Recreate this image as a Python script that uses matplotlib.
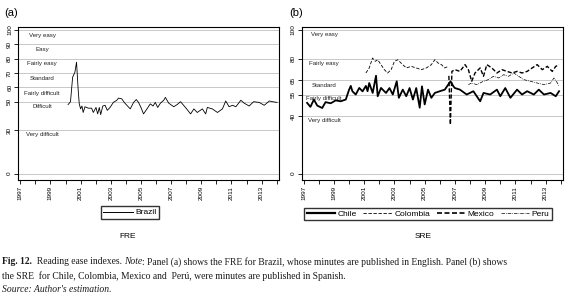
import matplotlib
matplotlib.use("Agg")
import matplotlib.pyplot as plt
from matplotlib.lines import Line2D

plt.rcParams['font.family'] = ['Liberation Sans', 'DejaVu Sans']

# ---- panel (a): FRE, Brazil ----
br_year = [2000.17, 2000.33, 2000.47, 2000.62, 2000.73, 2000.84, 2000.91, 2001.0, 2001.09, 2001.17,
           2001.29, 2001.51, 2001.73, 2001.84, 2002.02, 2002.13, 2002.24, 2002.33, 2002.47, 2002.62,
           2002.77, 2002.95, 2003.17, 2003.4, 2003.51, 2003.73, 2003.89, 2004.11, 2004.29, 2004.51,
           2004.69, 2004.84, 2005.0, 2005.17, 2005.4, 2005.62, 2005.8, 2005.95, 2006.11, 2006.29,
           2006.51, 2006.62, 2006.84, 2007.17, 2007.4, 2007.62, 2007.95, 2008.29, 2008.51, 2008.73,
           2009.07, 2009.29, 2009.4, 2009.73, 2010.07, 2010.4, 2010.62, 2010.84, 2011.07, 2011.29,
           2011.62, 2011.84, 2012.17, 2012.47, 2012.84, 2013.17, 2013.51, 2013.73, 2014.02]
br_fre = [48, 50, 67, 70.5, 77.5, 58, 48.5, 45, 47, 42.5,
          46.5, 45.5, 45.5, 42.5, 46, 41.5, 46, 41, 47, 47.5,
          44, 46, 49.5, 51, 52.5, 52, 49.5, 47, 45, 49.5,
          51.5, 49.5, 46, 41.5, 45, 48.5, 47, 49.5, 46, 49,
          51, 53, 49, 46.5, 48, 50, 46, 41.5, 45, 42.5,
          45, 41.5, 46, 45, 42.5, 45, 50.5, 46.5, 47.5, 46.5,
          51, 49, 47, 50, 49.5, 47.5, 50.5, 50, 49.5]

fre_ticks = [0, 30, 50, 60, 70, 80, 90, 100]
fre_labels = ["Very easy", "Easy", "Fairly easy", "Standard", "Fairly difficult", "Difficult", "Very difficult"]
fre_label_y = [95.8, 86, 76.4, 66, 56, 46.5, 27]

# ---- panel (b): SRE ----
cl_year = [1997.22, 1997.44, 1997.67, 1997.89, 1998.22, 1998.44, 1998.78, 1999.11, 1999.44, 1999.78,
           2000.0, 2000.11, 2000.22, 2000.44, 2000.67, 2000.89, 2001.11, 2001.22, 2001.33, 2001.56,
           2001.78, 2001.89, 2002.11, 2002.22, 2002.44, 2002.67, 2002.89, 2003.15, 2003.29, 2003.55,
           2003.78, 2004.0, 2004.22, 2004.44, 2004.67, 2004.82, 2005.0, 2005.22, 2005.44, 2005.67,
           2006.0, 2006.33, 2006.55, 2006.71, 2006.9, 2007.0, 2007.33, 2007.78, 2008.22, 2008.67,
           2008.89, 2009.33, 2009.78, 2010.0, 2010.33, 2010.67, 2011.11, 2011.44, 2011.78, 2012.22,
           2012.55, 2012.89, 2013.33, 2013.67, 2013.89]
cl_sre = [49.2, 46.4, 51.5, 47.3, 45.6, 49.7, 48.9, 50.9, 50.3, 51.5,
          58.4, 61, 57.2, 55, 59.6, 57.2, 61, 57.3, 63, 56.1,
          68.1, 53.8, 59.6, 58.4, 56.1, 59.5, 55, 64.2, 52.7, 58.4,
          53.8, 59.5, 51.5, 59.5, 45.8, 60.7, 48.1, 58.4, 52.7, 56.1,
          57.3, 58.4, 61.8, 64.2, 60.7, 59.5, 58.4, 55, 57.3, 50.3,
          56.1, 55, 58.4, 53.8, 59.5, 52.7, 58.4, 55, 57.3, 55,
          58.4, 55, 56.1, 53.8, 57.3]

co_year = [2001.11, 2001.33, 2001.55, 2001.73, 2001.89, 2002.11, 2002.33, 2002.55, 2002.78, 2003.0,
           2003.22, 2003.44, 2003.78, 2004.11, 2004.44, 2004.78, 2005.11, 2005.44, 2005.67, 2005.89,
           2006.11, 2006.33, 2006.55]
co_sre = [70, 73.5, 80.4, 78.1, 79.2, 75.8, 72.3, 70, 72.3, 78.1,
          79.2, 76.9, 73.5, 74.6, 73.5, 72.3, 73.5, 75.8, 79.2, 76.9,
          75.8, 73.5, 74.6]

mx_year = [2006.6, 2006.7, 2006.8, 2007.0, 2007.33, 2007.67, 2007.89, 2008.11, 2008.33, 2008.67,
           2008.89, 2009.11, 2009.44, 2009.78, 2010.11, 2010.44, 2010.78, 2011.11, 2011.44, 2011.78,
           2012.11, 2012.44, 2012.78, 2013.11, 2013.44, 2013.67, 2013.89]
mx_sre = [68, 34, 71.1, 72.3, 71.1, 75.8, 72.3, 64.2, 70, 73.5,
          67.7, 75.8, 73.5, 70, 72.3, 71.1, 70, 71.1, 70, 71.1,
          73.5, 75.8, 72.3, 74.6, 71.1, 74.6, 75.8]

pe_year = [2007.89, 2008.11, 2008.44, 2008.89, 2009.22, 2009.55, 2009.89, 2010.22, 2010.55, 2010.89,
           2011.22, 2011.55, 2012.0, 2012.44, 2012.89, 2013.33, 2013.55, 2013.78, 2013.89]
pe_sre = [61.9, 63, 61.9, 64.2, 65.4, 67.7, 66.5, 68.8, 67.7, 70,
          67.7, 65.4, 64.2, 63, 61.9, 63, 66.5, 63, 60.7]

sre_ticks = [0, 40, 55, 65, 80, 100]
sre_labels = ["Very easy", "Fairly easy", "Standard", "Fairly difficult", "Very difficult"]
sre_label_y = [96.5, 76.9, 61.4, 52, 37.2]

year_ticks = list(range(1997, 2015, 2))
year_minor = list(range(1998, 2015, 2))

W, H = 578, 299
fig = plt.figure(figsize=(W / 100, H / 100), dpi=100)


def style_axis(ax, yticks):
    ax.set_xlim(1996.85, 2014.15)
    ax.set_ylim(-4.5, 102)
    ax.set_yticks(yticks)
    ax.set_yticklabels([str(t) for t in yticks], rotation=90, va='center', fontsize=4.6)
    ax.set_xticks(year_ticks)
    ax.set_xticklabels([str(t) for t in year_ticks], rotation=90, fontsize=4.6)
    ax.set_xticks(year_minor, minor=True)
    ax.tick_params(axis='both', which='both', length=3, width=0.6, pad=1.2, color='black')
    ax.grid(axis='y', color='#c8c8c8', linewidth=0.7)
    ax.set_axisbelow(True)
    for s in ax.spines.values():
        s.set_linewidth(0.8)
        s.set_color('black')


# panel (a)
ax1 = fig.add_axes([18 / W, 1 - 180 / H, 261 / W, 153 / H])
style_axis(ax1, fre_ticks)
ax1.plot(br_year, br_fre, color='black', linewidth=0.6)
for lab, yv in zip(fre_labels, fre_label_y):
    ax1.text(1998.45, yv, lab, ha='center', va='center', fontsize=4.4, color='#222222')
ax1.legend(handles=[Line2D([], [], color='black', linewidth=0.7)], labels=['Brazil'],
           loc='center', bbox_to_anchor=(130 / W, 1 - 212.5 / H), bbox_transform=fig.transFigure,
           fontsize=6, frameon=True, fancybox=False, edgecolor='black', handlelength=3.6,
           borderpad=0.3, handletextpad=0.3, borderaxespad=0)
fig.text(4 / W, 1 - 13 / H, "(a)", fontsize=8, va='center', ha='left')
fig.text(128 / W, 1 - 237 / H, "FRE", fontsize=6, va='center', ha='center')

# panel (b)
ax2 = fig.add_axes([301.5 / W, 1 - 180 / H, 261.5 / W, 153 / H])
style_axis(ax2, sre_ticks)
ax2.plot(cl_year, cl_sre, color='black', linewidth=1.3)
ax2.plot(co_year, co_sre, color='black', linewidth=0.6, linestyle=(0, (4, 2)))
ax2.plot(mx_year, mx_sre, color='black', linewidth=1.0, linestyle=(0, (3, 1.5)))
ax2.plot(pe_year, pe_sre, color='black', linewidth=0.5, linestyle=(0, (5, 1.5, 1, 1.5)))
for lab, yv in zip(sre_labels, sre_label_y):
    ax2.text(1998.35, yv, lab, ha='center', va='center', fontsize=4.4, color='#222222')
handles = [Line2D([], [], color='black', linewidth=1.6),
           Line2D([], [], color='black', linewidth=0.6, linestyle=(0, (4, 2))),
           Line2D([], [], color='black', linewidth=1.2, linestyle=(0, (3, 1.5))),
           Line2D([], [], color='black', linewidth=0.5, linestyle=(0, (5, 1.5, 1, 1.5)))]
ax2.legend(handles=handles, labels=['Chile', 'Colombia', 'Mexico', 'Peru'], ncol=4,
           loc='center', bbox_to_anchor=(428 / W, 1 - 214 / H), bbox_transform=fig.transFigure,
           fontsize=6, frameon=True, fancybox=False, edgecolor='black', handlelength=3.4,
           borderpad=0.3, handletextpad=0.3, columnspacing=0.8, borderaxespad=0)
fig.text(289 / W, 1 - 13 / H, "(b)", fontsize=8, va='center', ha='left')
fig.text(423 / W, 1 - 237 / H, "SRE", fontsize=6, va='center', ha='center')

# ---- caption, built from styled runs ----
serif = ['Liberation Serif', 'DejaVu Serif']
line1 = [("Fig. 12.", 'bold', 'normal'), ("  Reading ease indexes. ", 'normal', 'normal'),
         ("Note", 'normal', 'italic'),
         (": Panel (a) shows the FRE for Brazil, whose minutes are published in English. Panel (b) shows",
          'normal', 'normal')]
line2 = [("the SRE  for Chile, Colombia, Mexico and  Perú, were minutes are published in Spanish.",
          'normal', 'normal')]
line3 = [("Source: Author's estimation.", 'normal', 'italic')]

fig.canvas.draw()
renderer = fig.canvas.get_renderer()


def place_runs(runs, x0, yc, size):
    x = x0
    for txt, wt, st in runs:
        t = fig.text(x / W, 1 - yc / H, txt, fontsize=size, family=serif, weight=wt, style=st,
                     va='center', ha='left', color='#1a1a1a')
        bb = t.get_window_extent(renderer=renderer)
        x += bb.width


cap_size = 6.95
place_runs(line1, 2, 262, cap_size)
place_runs(line2, 2, 276.5, cap_size)
place_runs(line3, 2, 290, cap_size)

fig.savefig("out.png", dpi=100)
